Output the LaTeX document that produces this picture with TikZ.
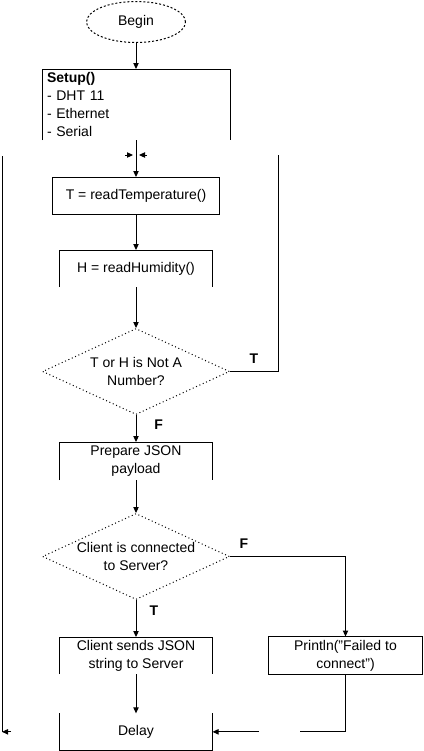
\documentclass[tikz,border=0pt]{standalone}
\usepackage{fontspec}
\setmainfont{Liberation Sans}
\usepackage{tikz}
\usetikzlibrary{shapes.geometric, arrows.meta, positioning}
\tikzstyle{term} = [ellipse, minimum width=74.25pt, minimum height=30.75pt, draw=black, line width=0.75pt, dash pattern=on 1.5pt off 1.5pt, text centered]
\tikzstyle{proc} = [rectangle, minimum width=114.75pt, minimum height=27.75pt, align=center, inner sep=1pt, outer sep=0pt, font=\fontsize{10.5}{13.5}\selectfont]
\tikzstyle{dec} = [diamond, minimum width=140.25pt, minimum height=64.5pt, inner sep=0pt, draw=black, line width=0.75pt, dash pattern=on 0.75pt off 2pt]
\tikzstyle{dectext} = [align=center, font=\fontsize{10.5}{13.5}\selectfont]
\tikzstyle{arr} = [-{Triangle[length=4.5pt,width=4pt]}, line width=0.75pt]
\tikzstyle{edge} = [line width=0.75pt]
\tikzstyle{lab} = [font=\fontsize{10.5}{12}\selectfont\bfseries]

\begin{document}
\begin{tikzpicture}[x=0.75pt, y=-0.75pt, font=\fontsize{10.5}{12.75}\selectfont]
  \useasboundingbox (0,0) rectangle (424,751);
  % Main column
  \node[term] (beg) at (136,22) {Begin};
  \node[proc, below=19.5pt of beg, minimum width=141pt, minimum height=53.25pt, text width=133.5pt, align=left] (setup) {\textbf{Setup()}\\- DHT 11\\- Ethernet\\- Serial};
  \node[proc, draw=black, line width=0.75pt, below=27.75pt of setup, minimum width=125.25pt] (temp) {T = readTemperature()};
  \node[proc, below=27pt of temp] (hum) {H = readHumidity()};
  \node[dec, below=30.75pt of hum, label={[dectext]center:T or H is Not A\\Number?}] (nan) {};
  \node[proc, below=20.25pt of nan, minimum height=28.5pt] (prep) {Prepare JSON\\payload};
  \node[dec, below=24.75pt of prep, label={[dectext]center:Client is connected\\to Server?}] (conn) {};
  \node[proc, below=27.75pt of conn] (send) {Client sends JSON\\string to Server};
  \node[proc, below=29.5pt of send] (delay) {Delay};
  % Side branch
  \node[proc, draw=black, line width=0.75pt, right=42pt of send, minimum width=115.5pt, minimum height=28.5pt] (fail) {Println("Failed to\\connect")};
  % open box borders
  \draw[edge] (setup.south west) -- (setup.north west) -- (setup.north east) -- (setup.south east);
  \draw[edge] (hum.south west) -- (hum.north west) -- (hum.north east) -- (hum.south east);
  \draw[edge] (prep.south west) -- (prep.north west) -- (prep.north east) -- (prep.south east);
  \draw[edge] (send.south west) -- (send.north west) -- (send.north east) -- (send.south east);
  \draw[edge] (delay.north west) -- (delay.south west) -- (delay.south east) -- (delay.north east);
  % loose ends of the loops
  \coordinate (rtop) at (278,155);
  \coordinate (rstub) at (147,155);
  \coordinate (rtip) at (139,155);
  \coordinate (lstub) at (125,155);
  \coordinate (ltip) at (133,155);
  \coordinate (ltop) at (2,156);
  \coordinate (lbot) at (delay.west -| 2,0);
  \coordinate (lend) at (delay.west -| 11,0);
  \coordinate (fcorner) at (delay.east -| fail.south);
  \coordinate (fgap) at (delay.east -| 300,0);
  \coordinate (dgap) at (delay.east -| 259,0);
  % flow
  \draw[arr] (beg) -- (setup);
  \draw[arr] (setup) -- (temp);
  \draw[arr] (temp) -- (hum);
  \draw[arr] (hum) -- (nan);
  \draw[arr] (nan) -- node[lab, pos=0.35, right=10pt]{F} (prep);
  \draw[arr] (prep) -- (conn);
  \draw[arr] (conn) -- node[lab, pos=0.3, right=6.5pt]{T} (send);
  \draw[arr] (send) -- (delay);
  \draw[arr] (conn.east) -| node[lab, pos=0.06, above=2pt]{F} (fail.north);
  % loop back on T
  \draw[edge] (nan.east) -| node[lab, pos=0.25, above=2pt]{T} (rtop);
  \draw[arr] (rstub) -- (rtip);
  % loop back from delay
  \draw[edge] (ltop) -- (lbot);
  \draw[arr] (lend) -- (lbot);
  \draw[arr] (lstub) -- (ltip);
  % fail joins delay
  \draw[edge] (fail.south) -- (fcorner) -- (fgap);
  \draw[arr] (dgap) -- (delay.east);
\end{tikzpicture}
\end{document}
